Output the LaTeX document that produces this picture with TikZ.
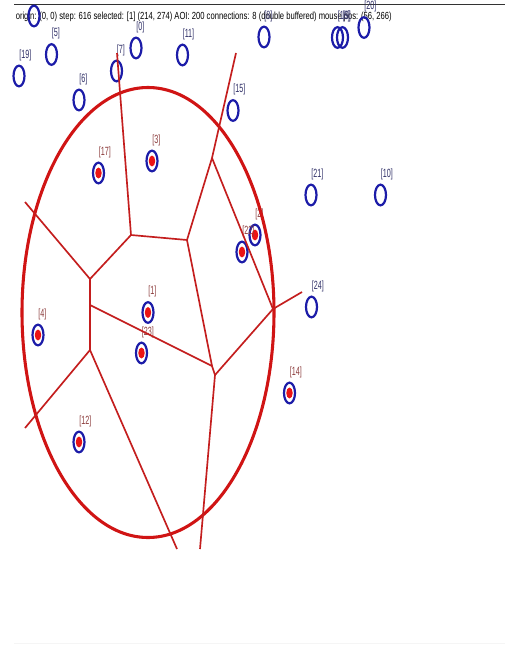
\documentclass[tikz,border=0pt]{standalone}
\usepackage{fontspec}
\setmainfont{Liberation Sans}
\usetikzlibrary{shapes.geometric}
\definecolor{ringblue}{RGB}{28,28,168}
\definecolor{aoired}{RGB}{208,20,20}
\definecolor{vorred}{RGB}{196,30,30}
\definecolor{dotred}{RGB}{235,20,20}
\definecolor{lblred}{RGB}{140,60,60}
\definecolor{lblblue}{RGB}{50,50,105}
\newcommand\lbltxt[1]{\scalebox{1}[1.65]{\fontsize{5.4}{6}\selectfont #1}}
\newcommand\bluept[4]{\node[ring] (#1) at (#2,#3) {};
  \node[bluelbl] (#1l) at (#2,#3-18) {\lbltxt{#4}};}
\newcommand\redpt[4]{\node[ring] (#1) at (#2,#3) {};
  \node[reddot] (#1d) at (#2,#3) {};
  \node[redlbl] (#1l) at (#2,#3-18) {\lbltxt{#4}};}
\begin{document}
\begin{tikzpicture}[x=0.75pt,y=-0.75pt,
  ring/.style={ellipse, draw=ringblue, line width=1.65pt, minimum width=8.25pt, minimum height=15.5pt, inner sep=0pt},
  reddot/.style={ellipse, fill=dotred, minimum width=4.8pt, minimum height=8.2pt, inner sep=0pt},
  bluelbl/.style={anchor=base west, inner sep=0pt, text=lblblue},
  redlbl/.style={anchor=base west, inner sep=0pt, text=lblred},
  vedge/.style={draw=vorred, line width=1.25pt},
  aoi/.style={draw=aoired, line width=2.3pt}]
\fill[white] (0,0) rectangle (505,646);
\useasboundingbox (0,0) rectangle (505,646);
% header
\coordinate (ruleL) at (14,4);
\coordinate (ruleR) at (505,4);
\draw[black!80, line width=0.75pt] (ruleL) -- (ruleR);
\coordinate (footL) at (14,643);
\coordinate (footR) at (505,643);
\draw[black!4, line width=0.75pt] (footL) -- (footR);
\node[anchor=base west, inner sep=0pt, text=black] (hdr) at (15.5,19) {\resizebox{282pt}{5.6pt}{\fontsize{8}{9}\selectfont origin: (0, 0) step: 616 selected: [1] (214, 274) AOI: 200 connections: 8 (double buffered) mouse pos: (56, 266)}};
% blue (outside) points
\node[ring] (p13) at (34,16) {};
\bluept{p5}{51.5}{54.5}{[5]}
\bluept{p19}{19}{76}{[19]}
\bluept{p7}{116.5}{71}{[7]}
\bluept{p0}{136}{48}{[0]}
\bluept{p11}{182.5}{55}{[11]}
\bluept{p6}{79}{100}{[6]}
\bluept{p15}{233}{110.5}{[15]}
\bluept{p8}{264}{37}{[8]}
\bluept{p18}{337.5}{37.5}{[18]}
\bluept{p9}{342.5}{37.5}{[9]}
\bluept{p20}{364}{27.5}{[20]}
\bluept{p21}{311}{195}{[21]}
\bluept{p10}{380.5}{195}{[10]}
\bluept{p24}{311.5}{307}{[24]}
% red (inside) points
\redpt{p3}{152}{161}{[3]}
\redpt{p17}{98.5}{173}{[17]}
\redpt{p2}{255}{235}{[2]}
\redpt{p22}{242}{252}{[22]}
\redpt{p1}{148}{312.5}{[1]}
\redpt{p23}{141.5}{353}{[23]}
\redpt{p4}{38}{335}{[4]}
\redpt{p12}{79}{442}{[12]}
\redpt{p14}{289.5}{393}{[14]}
% AOI ellipse
\draw[aoi] (p1.center) ellipse [x radius=126, y radius=225];
% Voronoi vertices
\coordinate (A) at (131,235);
\coordinate (B) at (187,240);
\coordinate (C) at (212,158);
\coordinate (Ct) at (236,53);
\coordinate (At) at (117,53);
\coordinate (D) at (273,309);
\coordinate (Ds) at (302,292);
\coordinate (E1) at (212,366);
\coordinate (E2) at (215,375);
\coordinate (Eb) at (200,549);
\coordinate (F) at (90,305);
\coordinate (G) at (90,279);
\coordinate (Ge) at (25,202);
\coordinate (H) at (90,350);
\coordinate (He) at (25,428);
\coordinate (Hb) at (177,549);
\draw[vedge] (At) -- (A);
\draw[vedge] (A) -- (B);
\draw[vedge] (Ct) -- (C);
\draw[vedge] (C) -- (B);
\draw[vedge] (C) -- (D);
\draw[vedge] (D) -- (Ds);
\draw[vedge] (D) -- (E2);
\draw[vedge] (B) -- (E1);
\draw[vedge] (E1) -- (E2);
\draw[vedge] (E2) -- (Eb);
\draw[vedge] (F) -- (E1);
\draw[vedge] (G) -- (A);
\draw[vedge] (G) -- (Ge);
\draw[vedge] (G) -- (F);
\draw[vedge] (F) -- (H);
\draw[vedge] (H) -- (He);
\draw[vedge] (H) -- (Hb);
\end{tikzpicture}
\end{document}
